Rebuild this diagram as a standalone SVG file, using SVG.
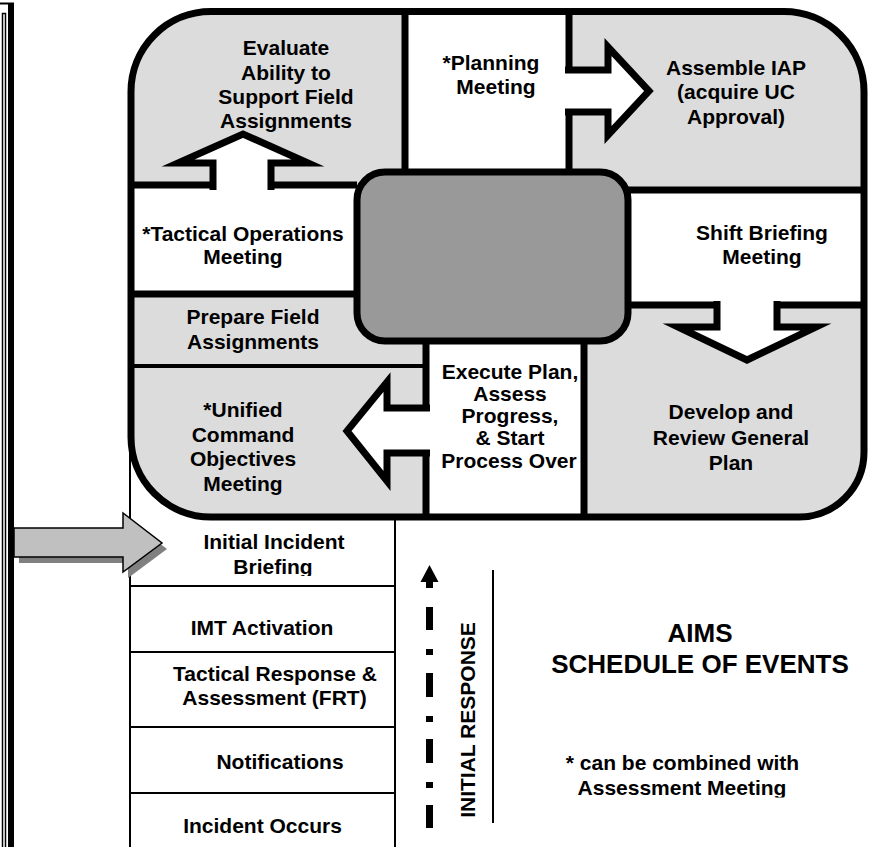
<svg xmlns="http://www.w3.org/2000/svg" width="874" height="847" viewBox="0 0 874 847">
  <style>
    .t { font-family: "Liberation Sans", Arial, sans-serif; font-weight: bold; font-size: 21px; text-anchor: middle; fill: #000; }
    .big { font-size: 26px; }
    .cell-gray { fill: #dcdcdc; }
    .cell-white { fill: #ffffff; }
    .div { stroke: #000; stroke-width: 7; fill: none; }
    .thin { stroke: #000; stroke-width: 2; fill: none; }
    .blk { fill: #ffffff; stroke: #000; stroke-width: 7; stroke-linejoin: miter; stroke-miterlimit: 10; }
  </style>
  <defs>
    <clipPath id="cycleClip">
      <path d="M211,11.5 H784 A80,80 0 0 1 864,91.5 V452 A65,65 0 0 1 799,517 H211 A80,80 0 0 1 131,437 V91.5 A80,80 0 0 1 211,11.5 Z"/>
    </clipPath>
    <clipPath id="briefClip"><rect x="130" y="520" width="265" height="56"/></clipPath>
    <clipPath id="noteClip"><rect x="540" y="740" width="320" height="57.5"/></clipPath>
  </defs>

  <rect width="874" height="847" fill="#ffffff"/>

  <!-- left margin rule -->
  <g id="margin-rule">
    <path d="M0,3.5 H14" stroke="#000" stroke-width="2"/>
    <rect x="8" y="3" width="6" height="844" fill="#000"/>
    <path d="M2.5,847 V13.5 H5.5 V847" fill="none" stroke="#000" stroke-width="1.5"/>
  </g>

  <!-- initial response stack -->
  <g id="response-stack">
    <path class="thin" d="M130,420 V847 M395,500 V847 M130,586 H395 M130,652 H395 M130,727 H395 M130,793 H395"/>
  </g>

  <!-- cycle cells -->
  <g clip-path="url(#cycleClip)">
    <rect x="120" y="0" width="760" height="530" fill="#ffffff"/>
    <g id="evaluate"><rect class="cell-gray" x="120" y="0" width="285" height="185"/></g>
    <g id="planning"><rect class="cell-white" x="405" y="0" width="164" height="172"/></g>
    <g id="assemble"><rect class="cell-gray" x="569" y="0" width="310" height="190"/></g>
    <g id="tactical-ops"><rect class="cell-white" x="120" y="185" width="237" height="109"/></g>
    <g id="shift-briefing"><rect class="cell-white" x="628" y="190" width="250" height="115"/></g>
    <g id="prepare"><rect class="cell-gray" x="120" y="294" width="306" height="72"/></g>
    <g id="unified"><rect class="cell-gray" x="120" y="366" width="306" height="160"/></g>
    <g id="execute"><rect class="cell-white" x="426" y="341" width="158" height="185"/></g>
    <g id="develop"><rect class="cell-gray" x="584" y="305" width="295" height="221"/></g>

    <path class="div" d="M405,11 V172 M569,11 V172 M131,185 H357 M628,190 H864 M131,294 H357 M426,341 V517 M584,341 V517 M628,305 H864"/>
    <path d="M131,366 H426" stroke="#000" stroke-width="4"/>
  </g>

  <!-- hub -->
  <g id="hub">
    <rect x="357" y="172" width="271" height="169" rx="28" ry="28" fill="#999999" stroke="#000" stroke-width="7"/>
  </g>

  <!-- connectors -->
  <g id="connectors">
    <path class="blk" d="M213,190 V163 H178 L243,134 L308,163 H271 V190"/>
    <path class="blk" d="M565,70 H608 V47 L649,91 L608,135 V112 H565"/>
    <path class="blk" d="M717,301 V327 H678 L747,360 L816,327 H777 V301"/>
    <path class="blk" d="M430,408 H387 V382 L347,431 L387,481 V453 H430"/>
    <!-- entry arrow into the cycle -->
    <polygon points="19,534 128,534 128,519 167,549 128,578 128,563 19,563" fill="#808080"/>
    <polygon points="14,528 123,528 123,513 162,543 123,572 123,557 14,557" fill="#c0c0c0" stroke="#000" stroke-width="1.5"/>
    <!-- initial response dashed arrow -->
    <g fill="#000">
      <polygon points="429.5,565 438.5,582 420.5,582"/>
      <rect x="426" y="581" width="7" height="7"/>
      <rect x="426" y="607" width="7" height="23"/>
      <rect x="426" y="649" width="7" height="6"/>
      <rect x="426" y="673" width="7" height="24"/>
      <rect x="426" y="716" width="7" height="6"/>
      <rect x="426" y="739" width="7" height="24"/>
      <rect x="426" y="782" width="7" height="6"/>
      <rect x="426" y="805" width="7" height="23"/>
    </g>
    <path d="M493,570 V823" stroke="#000" stroke-width="2"/>
  </g>

  <!-- cycle outline -->
  <path d="M211,11.5 H784 A80,80 0 0 1 864,91.5 V452 A65,65 0 0 1 799,517 H211 A80,80 0 0 1 131,437 V91.5 A80,80 0 0 1 211,11.5 Z" fill="none" stroke="#000" stroke-width="7"/>

  <!-- labels -->
  <g id="evaluate-label">
    <text class="t" x="286" y="55">Evaluate</text>
    <text class="t" x="286" y="80">Ability to</text>
    <text class="t" x="286" y="104">Support Field</text>
    <text class="t" x="286" y="128">Assignments</text>
  </g>
  <g id="planning-label">
    <text class="t" x="491" y="70">*Planning</text>
    <text class="t" x="496" y="94">Meeting</text>
  </g>
  <g id="assemble-label">
    <text class="t" x="736" y="75">Assemble IAP</text>
    <text class="t" x="736" y="99">(acquire UC</text>
    <text class="t" x="736" y="124">Approval)</text>
  </g>
  <g id="tactical-ops-label">
    <text class="t" x="243" y="241">*Tactical Operations</text>
    <text class="t" x="243" y="264">Meeting</text>
  </g>
  <g id="shift-briefing-label">
    <text class="t" x="762" y="240">Shift Briefing</text>
    <text class="t" x="762" y="264">Meeting</text>
  </g>
  <g id="prepare-label">
    <text class="t" x="253" y="324">Prepare Field</text>
    <text class="t" x="253" y="349">Assignments</text>
  </g>
  <g id="unified-label">
    <text class="t" x="243" y="417">*Unified</text>
    <text class="t" x="243" y="442">Command</text>
    <text class="t" x="243" y="466">Objectives</text>
    <text class="t" x="243" y="491">Meeting</text>
  </g>
  <g id="execute-label">
    <text class="t" x="510" y="379">Execute Plan,</text>
    <text class="t" x="510" y="401">Assess</text>
    <text class="t" x="510" y="423">Progress,</text>
    <text class="t" x="510" y="445">&amp; Start</text>
    <text class="t" x="509" y="468">Process Over</text>
  </g>
  <g id="develop-label">
    <text class="t" x="731" y="419">Develop and</text>
    <text class="t" x="731" y="445">Review General</text>
    <text class="t" x="731" y="470">Plan</text>
  </g>

  <g id="initial-briefing" clip-path="url(#briefClip)">
    <text class="t" x="274" y="549">Initial Incident</text>
    <text class="t" x="273" y="574">Briefing</text>
  </g>
  <g id="imt-activation"><text class="t" x="262" y="635">IMT Activation</text></g>
  <g id="tactical-response">
    <text class="t" x="275" y="681">Tactical Response &amp;</text>
    <text class="t" x="274.5" y="705">Assessment (FRT)</text>
  </g>
  <g id="notifications"><text class="t" x="280" y="769">Notifications</text></g>
  <g id="incident-occurs"><text class="t" x="262.5" y="833">Incident Occurs</text></g>

  <text class="t" transform="translate(475,720) rotate(-90)">INITIAL RESPONSE</text>

  <g id="title">
    <text class="t big" x="700" y="642">AIMS</text>
    <text class="t big" x="700" y="673">SCHEDULE OF EVENTS</text>
  </g>
  <g id="footnote" clip-path="url(#noteClip)">
    <text class="t" x="682.5" y="770">* can be combined with</text>
    <text class="t" x="682" y="795">Assessment Meeting</text>
  </g>
</svg>
